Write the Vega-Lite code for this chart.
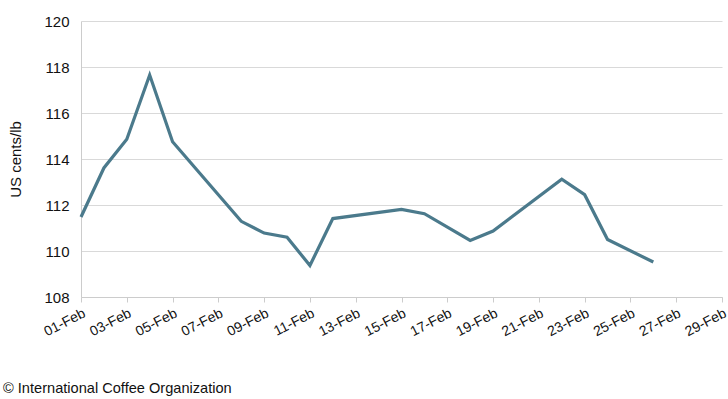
{
  "$schema": "https://vega.github.io/schema/vega-lite/v6.json",
  "autosize": {"type": "none"},
  "width": 641,
  "height": 276,
  "padding": {"left": 81, "top": 21, "right": 6, "bottom": 102},
  "background": "white",
  "config": {
    "font": "Liberation Sans",
    "view": {"stroke": null}
  },
  "title": {
    "text": "© International Coffee Organization",
    "orient": "bottom",
    "anchor": "start",
    "frame": "group",
    "dx": -78,
    "offset": 42,
    "fontSize": 14.6,
    "fontWeight": "normal",
    "color": "#111111",
    "font": "Liberation Sans"
  },
  "data": {
    "values": [
      {"date": "2012-02-01", "price": 111.48},
      {"date": "2012-02-02", "price": 113.61},
      {"date": "2012-02-03", "price": 114.86},
      {"date": "2012-02-04", "price": 117.65},
      {"date": "2012-02-05", "price": 114.75},
      {"date": "2012-02-08", "price": 111.29},
      {"date": "2012-02-09", "price": 110.78},
      {"date": "2012-02-10", "price": 110.6},
      {"date": "2012-02-11", "price": 109.37},
      {"date": "2012-02-12", "price": 111.41},
      {"date": "2012-02-15", "price": 111.81},
      {"date": "2012-02-16", "price": 111.62},
      {"date": "2012-02-18", "price": 110.46},
      {"date": "2012-02-19", "price": 110.87},
      {"date": "2012-02-22", "price": 113.12},
      {"date": "2012-02-23", "price": 112.45},
      {"date": "2012-02-24", "price": 110.5},
      {"date": "2012-02-26", "price": 109.52}
    ]
  },
  "mark": {"type": "line", "color": "#4B7A8C", "strokeWidth": 3.2, "strokeJoin": "miter"},
  "encoding": {
    "x": {
      "field": "date",
      "type": "temporal",
      "scale": {"type": "utc", "domain": ["2012-02-01", "2012-02-29"], "nice": false},
      "axis": {
        "title": null,
        "format": "%d-%b",
        "tickCount": {"interval": "day", "step": 2},
        "labelAngle": -27,
        "labelFontSize": 14,
        "labelColor": "#111111",
        "labelFont": "Liberation Sans",
        "labelOverlap": false,
        "labelPadding": 4,
        "labelDx": -5,
        "labelFlush": false,
        "domainColor": "#cccccc",
        "tickColor": "#cccccc",
        "tickSize": 5,
        "grid": false
      }
    },
    "y": {
      "field": "price",
      "type": "quantitative",
      "scale": {"domain": [108, 120], "nice": false, "zero": false},
      "axis": {
        "title": "US cents/lb",
        "titleFontSize": 15,
        "titleFontWeight": "normal",
        "titleColor": "#111111",
        "titleFont": "Liberation Sans",
        "titlePadding": 20,
        "values": [108, 110, 112, 114, 116, 118, 120],
        "labelFontSize": 15,
        "labelColor": "#111111",
        "labelFont": "Liberation Sans",
        "labelPadding": 12,
        "ticks": false,
        "domainColor": "#cccccc",
        "gridColor": "#d9d9d9",
        "grid": true
      }
    }
  }
}
